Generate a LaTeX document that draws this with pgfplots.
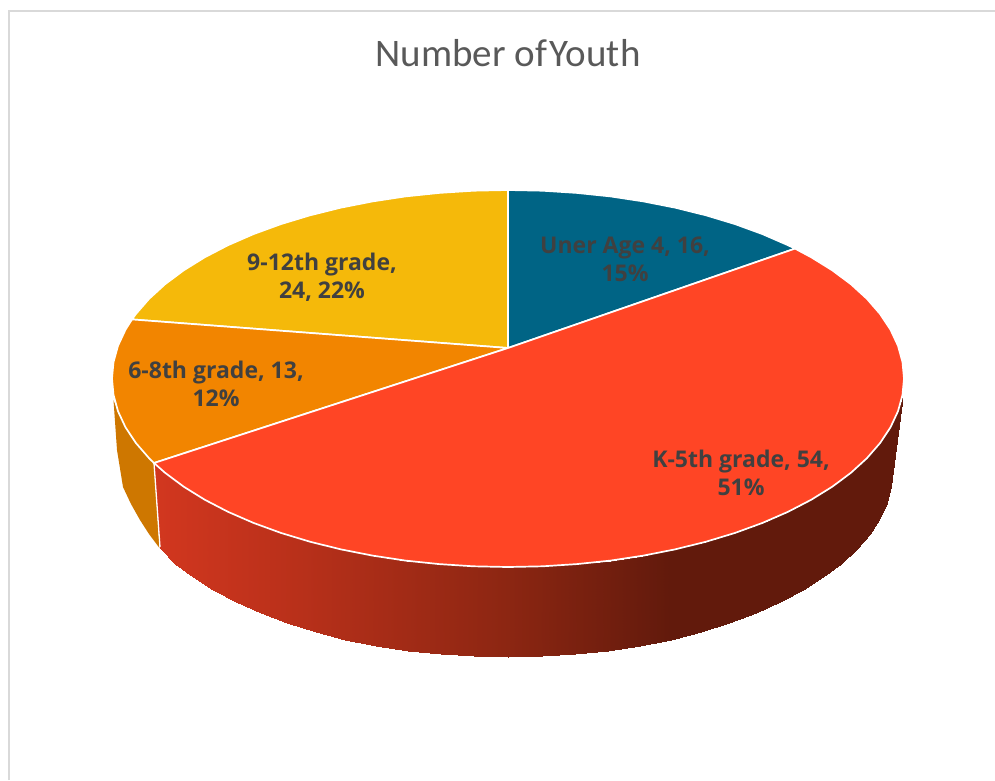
\documentclass[border=0pt]{standalone}
\usepackage{fontspec}
\setmainfont{Open Sans}
\newfontfamily\titlefont{Carlito}
\usepackage{pgfplots}
\pgfplotsset{compat=1.18}
\definecolor{cblue}{HTML}{006485}
\definecolor{cred}{HTML}{FF4525}
\definecolor{corange}{HTML}{F28500}
\definecolor{cyellow}{HTML}{F5B90A}
\definecolor{csideo}{HTML}{CE7700}
\definecolor{ctext}{HTML}{404040}
\definecolor{ctitle}{HTML}{595959}
\definecolor{cframe}{HTML}{D9D9D9}
\tikzset{lab/.style={font=\bfseries\fontsize{23}{28}\selectfont, text=ctext, align=center, anchor=center, inner sep=0pt}}
\begin{document}
\begin{tikzpicture}
\path[use as bounding box] (0,0) rectangle (995pt,780pt);
\begin{axis}[
  at={(0,0)}, anchor=south west,
  scale only axis, width=995pt, height=780pt,
  xmin=0, xmax=995, ymin=0, ymax=780, y dir=reverse,
  hide axis,
  colormap={sidered}{rgb255(0)=(210,55,31) rgb255(145)=(184,48,26) rgb255(353)=(140,38,18) rgb255(515)=(98,26,12) rgb255(750)=(98,26,12)},
  colormap name=sidered,
  point meta min=155, point meta max=905,
]
% frame
\addplot[cframe, line width=2pt] coordinates {(9,780) (9,11) (995,11)};
% orange side
\addplot[fill=csideo, draw=none] coordinates {
 (154,463) (149.1,458.2) (135.9,443) (125.5,427.3) (118,411.2) (113.5,400)
 (117,450) (123,487) (131,504) (140,520) (149,534) (159.5,548)} -- cycle;
% red side: upper edge, then lower edge
\addplot[surf, shader=interp, mesh/rows=2, point meta=x] coordinates {
 (154,463) (165.1,472.8) (183.6,486.6) (204.7,499.7) (228,511.8) (253.5,522.9) (280.9,532.9) (310,541.7)
 (340.6,549.3) (372.6,555.6) (405.5,560.6) (439.3,564.1) (473.5,566.3) (508,567) (542.5,566.3) (576.7,564.1)
 (610.5,560.6) (643.4,555.6) (675.4,549.3) (706,541.7) (735.1,532.9) (762.5,522.9) (788,511.8) (811.3,499.7)
 (832.4,486.6) (850.9,472.8) (866.9,458.2) (880.1,443) (890.5,427.3) (898,411.2) (900.5,403) (902.5,395)

 (159.5,548) (174.6,563.5) (192.6,577.3) (213.1,590.2) (235.8,602.2) (260.5,613.2) (287.2,623.2) (315.5,631.9)
 (345.3,639.5) (376.3,645.7) (408.4,650.6) (441.2,654.2) (474.4,656.3) (508,657) (541.6,656.3) (574.8,654.2)
 (607.6,650.6) (639.7,645.7) (670.7,639.5) (700.5,631.9) (728.8,623.2) (755.5,613.2) (780.2,602.2) (802.9,590.2)
 (823.4,577.3) (841.4,563.5) (856.9,549) (869.8,534) (879.9,518.4) (887.2,502.5) (890.5,486.3) (893,470)
};
\addplot[white, line width=1.3pt] coordinates {(154,463) (160,547)};
% top: yellow
\addplot[fill=cyellow, draw=white, line width=1.7pt] coordinates {
 (508,348) (132,319.4) (135.9,314) (149.1,298.8) (165.1,284.2) (183.6,270.4) (204.7,257.3) (228,245.2)
 (253.5,234.1) (280.9,224.1) (310,215.3) (340.6,207.7) (372.6,201.4) (405.5,196.4) (439.3,192.9) (473.5,190.7) (508,190)} -- cycle;
% top: orange
\addplot[fill=corange, draw=white, line width=1.7pt] coordinates {
 (508,348) (154,463) (149.1,458.2) (135.9,443) (125.5,427.3) (118,411.2) (113.5,394.9) (112,378.5)
 (113.5,362.1) (118,345.8) (125.5,329.7) (132,319.4)} -- cycle;
% top: blue
\addplot[fill=cblue, draw=white, line width=1.7pt] coordinates {
 (508,348) (508,190) (542.5,190.7) (576.7,192.9) (610.5,196.4) (643.4,201.4) (675.4,207.7) (706,215.3)
 (735.1,224.1) (762.5,234.1) (788,245.2) (795,248.6)} -- cycle;
% top: red
\addplot[fill=cred, draw=white, line width=1.7pt] coordinates {
 (508,348) (795,248.6) (811.3,257.3) (832.4,270.4) (850.9,284.2) (866.9,298.8) (880.1,314) (890.5,329.7)
 (898,345.8) (902.5,362.1) (904,378.5) (902.5,394.9) (898,411.2) (890.5,427.3) (880.1,443) (866.9,458.2)
 (850.9,472.8) (832.4,486.6) (811.3,499.7) (788,511.8) (762.5,522.9) (735.1,532.9) (706,541.7) (675.4,549.3)
 (643.4,555.6) (610.5,560.6) (576.7,564.1) (542.5,566.3) (508,567) (473.5,566.3) (439.3,564.1) (405.5,560.6)
 (372.6,555.6) (340.6,549.3) (310,541.7) (280.9,532.9) (253.5,522.9) (228,511.8) (204.7,499.7) (183.6,486.6)
 (165.1,472.8) (154,463)} -- cycle;
% texts
\node[font=\titlefont\fontsize{39}{42}\selectfont, text=ctitle, anchor=center, inner sep=0pt] at (axis cs:508,53) {Number of\kern-6pt{} Youth};
\node[lab] at (axis cs:625,259) {Uner Age 4, 16,\\15\%};
\node[lab] at (axis cs:322,277) {9-12th grade,\\24, 22\%};
\node[lab] at (axis cs:216,384) {6-8th grade, 13,\\12\%};
\node[lab] at (axis cs:741,473) {K-5th grade, 54,\\51\%};
\end{axis}
\end{tikzpicture}
\end{document}
